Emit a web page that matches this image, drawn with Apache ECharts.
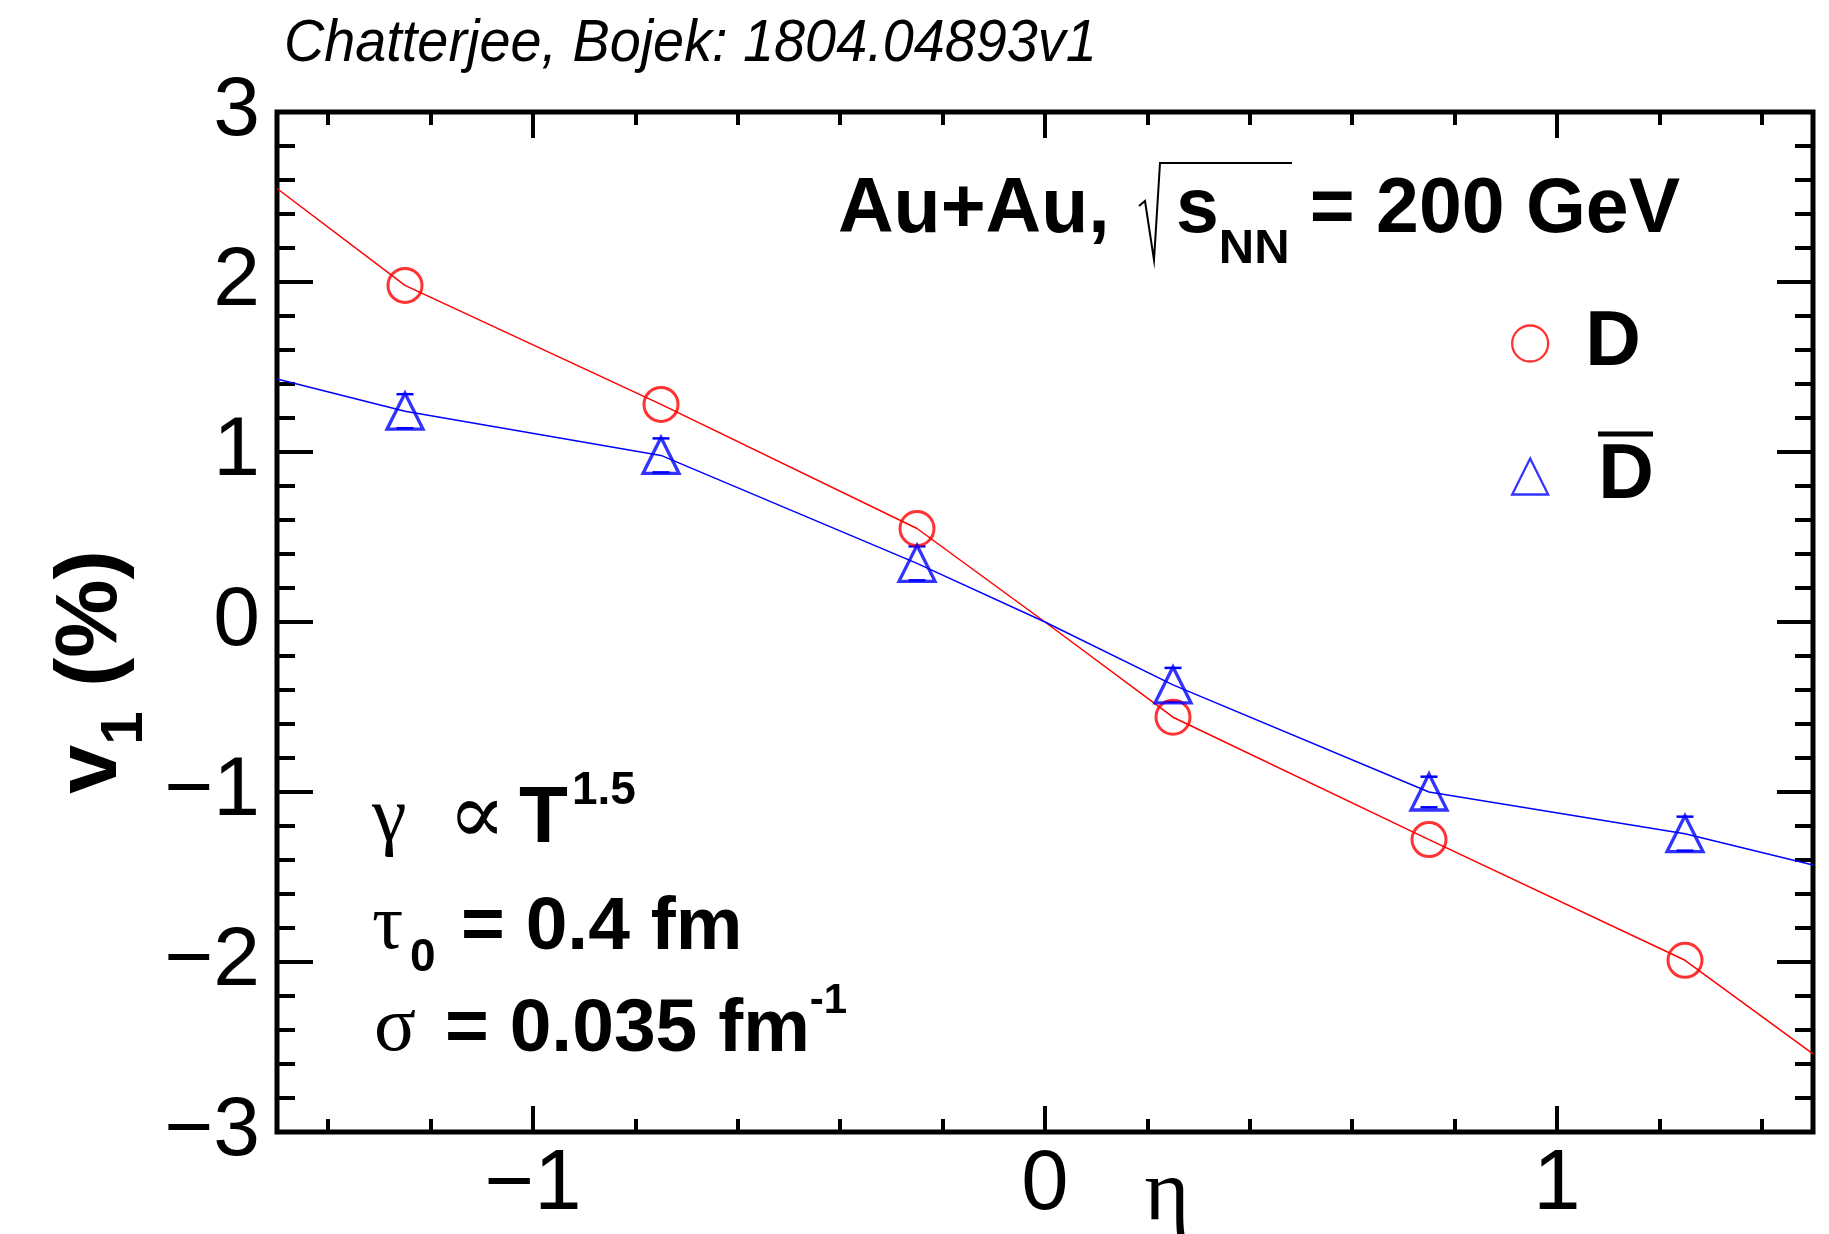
<!DOCTYPE html>
<html>
<head>
<meta charset="utf-8">
<script src="https://cdn.jsdelivr.net/npm/echarts@6/dist/echarts.min.js"></script>
<style>
  html, body { margin: 0; padding: 0; background: #fff; }
  #chart { width: 1829px; height: 1234px; }
</style>
</head>
<body>
<div id="chart"></div>
<script>
// v1 of D and anti-D vs pseudorapidity
const etaPts = [-1.25, -0.75, -0.25, 0.25, 0.75, 1.25]
const v1D = [1.98, 1.28, 0.55, -0.56, -1.28, -1.99]
const v1Dbar = [1.24, 0.98, 0.345, -0.37, -1.0, -1.245]
const errDbar = [0.1, 0.1, 0.1, 0.1, 0.09, 0.1]

// connecting curves (run to the frame edges, through the origin)
const etaCurve = [-1.5, -1.25, -0.75, -0.25, 0, 0.25, 0.75, 1.25, 1.5]
const curveD = [2.55, 1.98, 1.28, 0.55, 0, -0.56, -1.28, -1.99, -2.54]
const curveDbar = [1.43, 1.24, 0.98, 0.345, 0, -0.37, -1.0, -1.245, -1.43]

const xMajor = [-1, 0, 1]
const xMinor = [-1.4, -1.2, -0.8, -0.6, -0.4, -0.2, 0.2, 0.4, 0.6, 0.8, 1.2, 1.4]

const FONT = '"Liberation Sans", Arial, sans-serif'
const SERIF = '"Liberation Serif", "DejaVu Serif", serif'
const RED = '#ff0000'
const BLUE = '#0000ff'

const minus = v => (v < 0 ? '\u2212' + Math.abs(v) : String(v))

function xAxisDef(position, values, len, labels) {
  return {
    type: 'value', position, min: -1.5, max: 1.5,
    axisLine: { show: false, onZero: false }, splitLine: { show: false },
    axisTick: { show: true, inside: true, length: len, customValues: values,
      lineStyle: { color: '#000', width: 4 } },
    axisLabel: labels
      ? { show: true, customValues: values, formatter: minus, fontSize: 85, margin: 11,
          color: '#000', fontFamily: FONT }
      : { show: false },
  }
}

function yAxisDef(position, labels) {
  return {
    type: 'value', position, min: -3, max: 3, interval: 1,
    axisLine: { show: false, onZero: false }, splitLine: { show: false },
    axisTick: { show: true, inside: true, length: 36, lineStyle: { color: '#000', width: 4 } },
    minorTick: { show: true, splitNumber: 5, length: 18, lineStyle: { color: '#000', width: 4 } },
    axisLabel: labels
      ? { show: true, formatter: minus, fontSize: 84, margin: 17, padding: [14, 0, 0, 0],
          color: '#000', fontFamily: FONT }
      : { show: false },
  }
}

const chart = echarts.init(document.getElementById('chart'))

chart.setOption({
  animation: false,
  backgroundColor: '#fff',
  grid: { left: 277, right: 16, top: 112, bottom: 102, show: true,
    borderColor: '#000', borderWidth: 5, backgroundColor: 'transparent' },
  xAxis: [
    xAxisDef('bottom', xMajor, 26, true),
    xAxisDef('bottom', xMinor, 13, false),
    xAxisDef('top', xMajor, 26, false),
    xAxisDef('top', xMinor, 13, false),
  ],
  yAxis: [yAxisDef('left', true), yAxisDef('right', false)],
  legend: {
    data: ['D', 'Dbar'],
    orient: 'vertical', left: 1506, top: 300,
    itemWidth: 36, itemHeight: 36, itemGap: 56,
    itemStyle: { borderWidth: 2.3 },
    formatter: name => (name === 'Dbar' ? '{pad|}{d|D}' : '{d|D}'),
    textStyle: {
      padding: [0, 0, 0, 32],
      rich: {
        d: { fontSize: 77, fontWeight: 'bold', fontFamily: FONT, color: '#000', lineHeight: 80 },
        pad: { width: 13 },
      },
    },
  },
  series: [
    {
      name: 'D curve', type: 'line', symbol: 'none', silent: true, z: 2,
      data: etaCurve.map((x, i) => [x, curveD[i]]),
      lineStyle: { color: RED, width: 1.5 },
    },
    {
      name: 'Dbar curve', type: 'line', symbol: 'none', silent: true, z: 2,
      data: etaCurve.map((x, i) => [x, curveDbar[i]]),
      lineStyle: { color: BLUE, width: 1.5 },
    },
    {
      name: 'Dbar err', type: 'custom', silent: true, z: 3,
      data: etaPts.map((x, i) => [x, v1Dbar[i], errDbar[i]]),
      renderItem(params, api) {
        const x = api.value(0), y = api.value(1), e = api.value(2)
        const c = api.coord([x, y])
        const top = api.coord([x, y + e])
        const bot = api.coord([x, y - e])
        const r = 18, cw = 8.5
        const st = { stroke: BLUE, lineWidth: 2.5 }
        const kids = [
          { type: 'line', shape: { x1: c[0] - cw, y1: top[1], x2: c[0] + cw, y2: top[1] }, style: st },
          { type: 'line', shape: { x1: c[0] - cw, y1: bot[1], x2: c[0] + cw, y2: bot[1] }, style: st },
        ]
        if (c[1] - top[1] > r) kids.push({ type: 'line', shape: { x1: c[0], y1: top[1], x2: c[0], y2: c[1] - r }, style: st })
        if (bot[1] - c[1] > r) kids.push({ type: 'line', shape: { x1: c[0], y1: c[1] + r, x2: c[0], y2: bot[1] }, style: st })
        return { type: 'group', children: kids }
      },
    },
    {
      name: 'D', type: 'scatter', symbol: 'circle', symbolSize: 34, z: 4,
      data: etaPts.map((x, i) => [x, v1D[i]]),
      itemStyle: { color: 'rgba(0,0,0,0)', borderColor: RED, borderWidth: 3 },
    },
    {
      name: 'Dbar', type: 'scatter', symbol: 'triangle', symbolSize: 36, z: 4,
      data: etaPts.map((x, i) => [x, v1Dbar[i]]),
      itemStyle: { color: 'rgba(0,0,0,0)', borderColor: BLUE, borderWidth: 3.3 },
    },
  ],
  graphic: [
    { type: 'text', x: 284, y: 44, scaleX: 0.93,
      style: { text: 'Chatterjee, Bojek: 1804.04893v1', fontSize: 60, fontStyle: 'italic',
        fontFamily: FONT, fill: '#000', verticalAlign: 'middle' } },
    // Au+Au, sqrt(s_NN) = 200 GeV
    { type: 'text', x: 838, y: 211,
      style: { text: 'Au+Au,', fontSize: 77, fontWeight: 'bold', fontFamily: FONT, fill: '#000',
        verticalAlign: 'middle' } },
    { type: 'polyline',
      shape: { points: [[1139, 206], [1145, 201], [1154, 260], [1160, 163], [1292, 163]] },
      style: { stroke: '#000', lineWidth: 2, fill: null } },
    { type: 'text', x: 1176, y: 211,
      style: { text: '{m|s}{sub|NN}', verticalAlign: 'middle', fill: '#000',
        rich: {
          m: { fontSize: 77, fontWeight: 'bold', fontFamily: FONT, lineHeight: 80 },
          sub: { fontSize: 49, fontWeight: 'bold', fontFamily: FONT, lineHeight: 49, padding: [76, 0, 0, 0] },
        } } },
    { type: 'text', x: 1680, y: 211,
      style: { text: '= 200 GeV', fontSize: 77, fontWeight: 'bold', fontFamily: FONT, fill: '#000',
        align: 'right', verticalAlign: 'middle' } },
    // overline for anti-D in legend
    { type: 'line', shape: { x1: 1598, y1: 434, x2: 1653, y2: 434 }, style: { stroke: '#000', lineWidth: 5 } },
    // model parameters
    { type: 'text', x: 372, y: 820,
      style: { text: '{g|\u03b3}{p|\u221d}{t|T}{sup|1.5}', verticalAlign: 'middle', fill: '#000',
        rich: {
          g: { fontSize: 78, fontFamily: SERIF, width: 76, lineHeight: 80 },
          p: { fontSize: 86, fontFamily: SERIF, width: 71, lineHeight: 80 },
          t: { fontSize: 80, fontWeight: 'bold', fontFamily: FONT, width: 53, lineHeight: 80 },
          sup: { fontSize: 46, fontWeight: 'bold', fontFamily: FONT, lineHeight: 46, padding: [0, 0, 58, 0] },
        } } },
    { type: 'text', x: 372, y: 928,
      style: { text: '{g|\u03c4}{sub|0}{b|= 0.4 fm}', verticalAlign: 'middle', fill: '#000',
        rich: {
          g: { fontSize: 78, fontFamily: SERIF, width: 38, lineHeight: 80 },
          sub: { fontSize: 46, fontWeight: 'bold', fontFamily: FONT, width: 51, lineHeight: 46, padding: [60, 0, 0, 0] },
          b: { fontSize: 75, fontWeight: 'bold', fontFamily: FONT, lineHeight: 80 },
        } } },
    { type: 'text', x: 374, y: 1030,
      style: { text: '{g|\u03c3}{b|= 0.035 fm}{sup|-1}', verticalAlign: 'middle', fill: '#000',
        rich: {
          g: { fontSize: 78, fontFamily: SERIF, width: 71, lineHeight: 80 },
          b: { fontSize: 75, fontWeight: 'bold', fontFamily: FONT, lineHeight: 80 },
          sup: { fontSize: 42, fontWeight: 'bold', fontFamily: FONT, lineHeight: 42, padding: [0, 0, 58, 0] },
        } } },
    // axis titles
    { type: 'text', x: 1167, y: 1196,
      style: { text: '\u03b7', fontSize: 86, fontFamily: SERIF, fill: '#000',
        align: 'center', verticalAlign: 'middle' } },
    { type: 'text', x: 92, y: 672, rotation: Math.PI / 2,
      style: { text: '{v|v}{s|1}{v| (%)}', align: 'center', verticalAlign: 'middle', fill: '#000',
        rich: {
          v: { fontSize: 88, fontWeight: 'bold', fontFamily: FONT, lineHeight: 100 },
          s: { fontSize: 60, fontWeight: 'bold', fontFamily: FONT, lineHeight: 60, padding: [67, 0, 0, 0] },
        } } },
  ],
})
</script>
</body>
</html>
